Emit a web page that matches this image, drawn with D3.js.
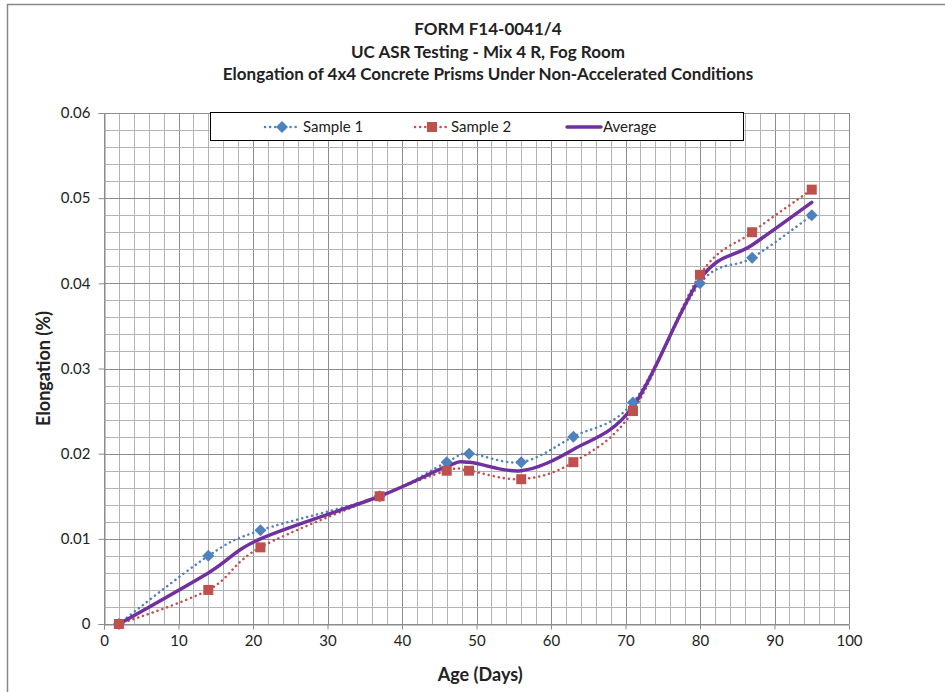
<!DOCTYPE html>
<html>
<head>
<meta charset="utf-8">
<script src="https://cdn.jsdelivr.net/npm/d3@7"></script>
<style>
  body { margin: 0; background: #fff; }
  text { font-family: Lato, "Open Sans", sans-serif; fill: #222; }
</style>
</head>
<body>
<svg id="chart" width="945" height="692"></svg>
<script>
// data
const titles = ["FORM F14-0041/4", "UC ASR Testing - Mix 4 R, Fog Room",
  "Elongation of 4x4 Concrete Prisms Under Non-Accelerated Conditions"];
const ages = [2, 14, 21, 37, 46, 49, 56, 63, 71, 80, 87, 95];
const sample1 = [0, 0.008, 0.011, 0.015, 0.019, 0.020, 0.019, 0.022, 0.026, 0.040, 0.043, 0.048];
const sample2 = [0, 0.004, 0.009, 0.015, 0.018, 0.018, 0.017, 0.019, 0.025, 0.041, 0.046, 0.051];
const average = [0, 0.006, 0.010, 0.015, 0.0185, 0.019, 0.018, 0.0205, 0.0255, 0.0405, 0.0445, 0.0495];
const xTicks = [0, 10, 20, 30, 40, 50, 60, 70, 80, 90, 100];
const yTicks = [0, 0.01, 0.02, 0.03, 0.04, 0.05, 0.06];

const svg = d3.select("#chart");
const margin = { left: 104, right: 96, top: 113, bottom: 68 };
const W = 945, H = 692;

const x = d3.scaleLinear().domain([0, 100]).range([margin.left, W - margin.right]);
const y = d3.scaleLinear().domain([0, 0.06]).range([H - margin.bottom, margin.top]);

// outer border (top/left visible in reference)
svg.append("path").attr("d", "M7.5,692 V4.5 H945")
  .attr("fill", "none").attr("stroke", "#888").attr("stroke-width", 1.5);

// titles
svg.selectAll("text.title").data(titles).join("text")
  .attr("class", "title")
  .attr("x", 488).attr("y", (d, i) => 35 + i * 22.5)
  .attr("text-anchor", "middle")
  .attr("font-size", 17).attr("font-weight", "bold")
  .text(d => d);

// grid
const grid = svg.append("g");
const minorX = d3.range(0, 101, 2);
const minorY = d3.range(0, 31).map(i => i * 0.002);
grid.selectAll("line.vx").data(minorX).join("line")
  .attr("x1", d => Math.round(x(d)) + 0.5).attr("x2", d => Math.round(x(d)) + 0.5)
  .attr("y1", y(0)).attr("y2", y(0.06))
  .attr("stroke", d => d % 10 === 0 ? "#8c8c8c" : "#b4b4b4").attr("stroke-width", 1);
grid.selectAll("line.hy").data(minorY).join("line")
  .attr("y1", (d, i) => Math.round(y(d)) + 0.5).attr("y2", (d, i) => Math.round(y(d)) + 0.5)
  .attr("x1", x(0)).attr("x2", x(100))
  .attr("stroke", (d, i) => i % 5 === 0 ? "#8c8c8c" : "#b4b4b4").attr("stroke-width", 1);

// axes
const xAxis = svg.append("g").attr("transform", `translate(0,${Math.round(y(0)) + 0.5})`)
  .call(d3.axisBottom(x).tickValues(xTicks).tickSize(5).tickPadding(6).tickFormat(d3.format("d")));
const yAxis = svg.append("g").attr("transform", `translate(${Math.round(x(0)) + 0.5},0)`)
  .call(d3.axisLeft(y).tickValues(yTicks).tickSize(6).tickPadding(8)
    .tickFormat(d => d === 0 ? "0" : d3.format(".2f")(d)));
[xAxis, yAxis].forEach(a => {
  a.select(".domain").attr("stroke", "#8c8c8c");
  a.selectAll(".tick line").attr("stroke", "#8c8c8c");
  a.selectAll("text").attr("font-size", 15).attr("fill", "#333")
    .attr("font-family", "Lato, 'Open Sans', sans-serif");
});

// axis titles
svg.append("text").attr("x", x(50.5)).attr("y", 681)
  .attr("text-anchor", "middle").attr("font-size", 18).attr("font-weight", "bold")
  .text("Age (Days)");
svg.append("text").attr("transform", `translate(50,${y(0.03)}) rotate(-90)`)
  .attr("text-anchor", "middle").attr("font-size", 18).attr("font-weight", "bold")
  .text("Elongation (%)");

// series
const series = [
  { name: "Sample 1", values: sample1, color: "#4F81BD", marker: "diamond", dotted: true },
  { name: "Sample 2", values: sample2, color: "#C0504D", marker: "square", dotted: true },
  { name: "Average", values: average, color: "#7030A0", marker: null, dotted: false }
];

const line = d3.line()
  .x((d, i) => x(ages[i])).y(d => y(d))
  .curve(d3.curveCardinal.tension(0));

const plot = svg.append("g");
series.forEach(s => {
  plot.append("path").datum(s.values)
    .attr("d", line)
    .attr("fill", "none")
    .attr("stroke", s.color)
    .attr("stroke-width", s.dotted ? 2.5 : 3.5)
    .attr("stroke-linecap", "round")
    .attr("stroke-dasharray", s.dotted ? "0.1,5" : null);
});

function drawMarker(g, kind, color, cx, cy) {
  if (kind === "diamond") {
    g.append("path")
      .attr("d", `M${cx},${cy - 6} L${cx + 6},${cy} L${cx},${cy + 6} L${cx - 6},${cy} Z`)
      .attr("fill", color);
  } else if (kind === "square") {
    g.append("rect").attr("x", cx - 5).attr("y", cy - 5)
      .attr("width", 10).attr("height", 10).attr("fill", color);
  }
}
series.filter(s => s.marker).forEach(s => {
  s.values.forEach((v, i) => drawMarker(plot, s.marker, s.color, x(ages[i]), y(v)));
});

// legend
const lg = svg.append("g");
lg.append("rect").attr("x", 210.5).attr("y", 112.5).attr("width", 533).attr("height", 28)
  .attr("fill", "#fff").attr("stroke", "#000").attr("stroke-width", 1);
const legendX = [265, 415, 567];
series.forEach((s, i) => {
  const lx = legendX[i], ly = 127;
  lg.append("line").attr("x1", lx).attr("x2", lx + 34).attr("y1", ly).attr("y2", ly)
    .attr("stroke", s.color).attr("stroke-width", s.dotted ? 2.5 : 3.5)
    .attr("stroke-linecap", "round")
    .attr("stroke-dasharray", s.dotted ? "0.1,5" : null);
  if (s.marker) drawMarker(lg, s.marker, s.color, lx + 17, ly);
  lg.append("text").attr("x", lx + (i === 0 ? 38 : 36)).attr("y", ly + 5)
    .attr("font-size", 15).attr("fill", "#333").text(s.name);
});
</script>
</body>
</html>
